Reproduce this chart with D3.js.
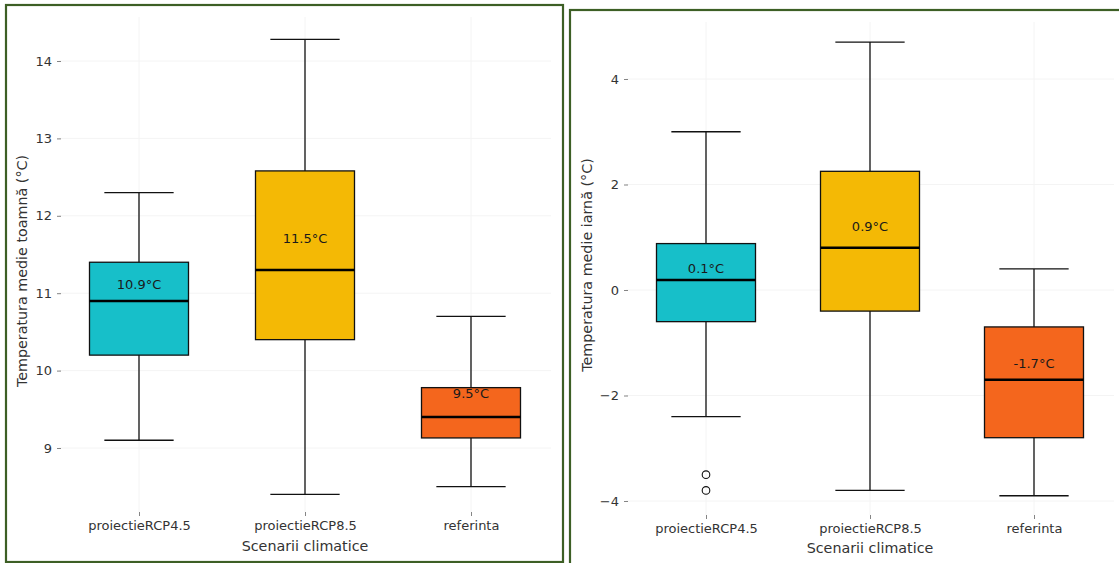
<!DOCTYPE html>
<html><head><meta charset="utf-8">
<script src="https://cdn.jsdelivr.net/npm/d3@7"></script>
<style>
html,body{margin:0;padding:0;background:#fff;}
svg{display:block;font-family:"DejaVu Sans",sans-serif;}
</style></head>
<body><svg id="c" width="1119" height="563"></svg>
<script>
const categories = ["proiectieRCP4.5", "proiectieRCP8.5", "referinta"];
const colors = ["#17BFC9", "#F4B905", "#F4661D"];

// Autumn (toamnă)
const autumnWhiskerLow = [9.1, 8.4, 8.5];
const autumnQ1 = [10.2, 10.4, 9.13];
const autumnMedian = [10.9, 11.3, 9.4];
const autumnQ3 = [11.4, 12.58, 9.78];
const autumnWhiskerHigh = [12.3, 14.28, 10.7];
const autumnMean = [10.9, 11.5, 9.5];
const autumnOutliers = [[], [], []];
const autumnTicks = [9, 10, 11, 12, 13, 14];

// Winter (iarnă)
const winterWhiskerLow = [-2.4, -3.8, -3.9];
const winterQ1 = [-0.6, -0.4, -2.8];
const winterMedian = [0.19, 0.8, -1.7];
const winterQ3 = [0.88, 2.25, -0.7];
const winterWhiskerHigh = [3.0, 4.7, 0.4];
const winterMean = [0.1, 0.9, -1.7];
const winterOutliers = [[-3.5, -3.8], [], []];
const winterTicks = [-4, -2, 0, 2, 4];

const svg = d3.select("#c");

function panel(opt) {
  const g = svg.append("g");
  g.append("rect").attr("x", opt.frame[0]).attr("y", opt.frame[1])
    .attr("width", opt.frame[2]).attr("height", opt.frame[3])
    .attr("fill", "none").attr("stroke", "#3D5F25").attr("stroke-width", 2.2);

  const y = d3.scaleLinear().domain(opt.yDomain).range(opt.yRange);
  const x = d3.scalePoint().domain(categories).range(opt.xRange);
  const bw = opt.boxWidth;

  // faint grid
  g.append("g").selectAll("line").data(opt.ticks).join("line")
    .attr("x1", opt.xRange[0] - 80).attr("x2", opt.xRange[1] + 80)
    .attr("y1", d => y(d)).attr("y2", d => y(d))
    .attr("stroke", "#f4f4f4").attr("stroke-width", 1);
  g.append("g").selectAll("line").data(categories).join("line")
    .attr("x1", d => x(d)).attr("x2", d => x(d))
    .attr("y1", opt.frame[1] + 12).attr("y2", opt.axisBottom)
    .attr("stroke", "#f4f4f4").attr("stroke-width", 1);

  const ya = d3.axisLeft(y).tickValues(opt.ticks).tickSize(4).tickPadding(5)
    .tickFormat(d => d < 0 ? "\u2212" + Math.abs(d) : String(d));
  const yg = g.append("g").attr("transform", `translate(${opt.axisX},0)`).call(ya);
  yg.select(".domain").remove();
  yg.selectAll(".tick line").attr("stroke", "#666").attr("stroke-width", 0.8);
  yg.selectAll(".tick text").attr("fill", "#333").style("font-size", "13px")
    .style("font-family", "DejaVu Sans");

  const xa = d3.axisBottom(x).tickSize(4).tickPadding(5);
  const xg = g.append("g").attr("transform", `translate(0,${opt.axisBottom})`).call(xa);
  xg.select(".domain").remove();
  xg.selectAll(".tick line").attr("stroke", "#666").attr("stroke-width", 0.8);
  xg.selectAll(".tick text").attr("fill", "#333").style("font-size", "13px")
    .style("font-family", "DejaVu Sans");

  g.append("text").attr("x", (opt.xRange[0] + opt.xRange[1]) / 2).attr("y", opt.xTitleY)
    .attr("text-anchor", "middle").attr("fill", "#333").style("font-size", "14.3px")
    .text("Scenarii climatice");
  g.append("text").attr("transform", `translate(${opt.yTitleX},${opt.yTitleCY}) rotate(-90)`)
    .attr("text-anchor", "middle").attr("fill", "#333").style("font-size", "14.3px")
    .text(opt.yTitle);

  categories.forEach((c, i) => {
    const cx = x(c);
    const bg = g.append("g");
    bg.append("line").attr("x1", cx).attr("x2", cx)
      .attr("y1", y(opt.hi[i])).attr("y2", y(opt.q3[i])).attr("stroke", "#111").attr("stroke-width", 1.3);
    bg.append("line").attr("x1", cx).attr("x2", cx)
      .attr("y1", y(opt.q1[i])).attr("y2", y(opt.lo[i])).attr("stroke", "#111").attr("stroke-width", 1.3);
    [opt.hi[i], opt.lo[i]].forEach(v => {
      bg.append("line").attr("x1", cx - bw * 0.35).attr("x2", cx + bw * 0.35)
        .attr("y1", y(v)).attr("y2", y(v)).attr("stroke", "#111").attr("stroke-width", 1.3);
    });
    bg.append("rect").attr("x", cx - bw / 2).attr("width", bw)
      .attr("y", y(opt.q3[i])).attr("height", y(opt.q1[i]) - y(opt.q3[i]))
      .attr("fill", colors[i]).attr("stroke", "#111").attr("stroke-width", 1.3);
    bg.append("line").attr("x1", cx - bw / 2).attr("x2", cx + bw / 2)
      .attr("y1", y(opt.med[i])).attr("y2", y(opt.med[i])).attr("stroke", "#000").attr("stroke-width", 2.6);
    opt.out[i].forEach(v => {
      bg.append("circle").attr("cx", cx).attr("cy", y(v)).attr("r", 3.8)
        .attr("fill", "none").attr("stroke", "#111").attr("stroke-width", 1.1);
    });
    bg.append("text").attr("x", cx).attr("y", y(opt.mean[i]) - 15)
      .attr("text-anchor", "middle").attr("dominant-baseline", "middle")
      .attr("fill", "#1a1a1a").style("font-size", "13px")
      .text(opt.mean[i].toFixed(1) + "\u00B0C");
  });
}

panel({
  frame: [6, 5, 557, 557],
  yDomain: [9, 14], yRange: [448, 61],
  xRange: [139, 471], boxWidth: 99,
  ticks: autumnTicks, axisX: 61, axisBottom: 512,
  xTitleY: 551, yTitleX: 27, yTitleCY: 271,
  yTitle: "Temperatura medie toamnă (°C)",
  lo: autumnWhiskerLow, q1: autumnQ1, med: autumnMedian, q3: autumnQ3, hi: autumnWhiskerHigh,
  mean: autumnMean, out: autumnOutliers
});

panel({
  frame: [570, 10, 560, 560],
  yDomain: [-4, 4], yRange: [501, 79],
  xRange: [706, 1034], boxWidth: 99,
  ticks: winterTicks, axisX: 628, axisBottom: 515,
  xTitleY: 553, yTitleX: 592, yTitleCY: 265,
  yTitle: "Temperatura medie iarnă (°C)",
  lo: winterWhiskerLow, q1: winterQ1, med: winterMedian, q3: winterQ3, hi: winterWhiskerHigh,
  mean: winterMean, out: winterOutliers
});
</script>
</body></html>
